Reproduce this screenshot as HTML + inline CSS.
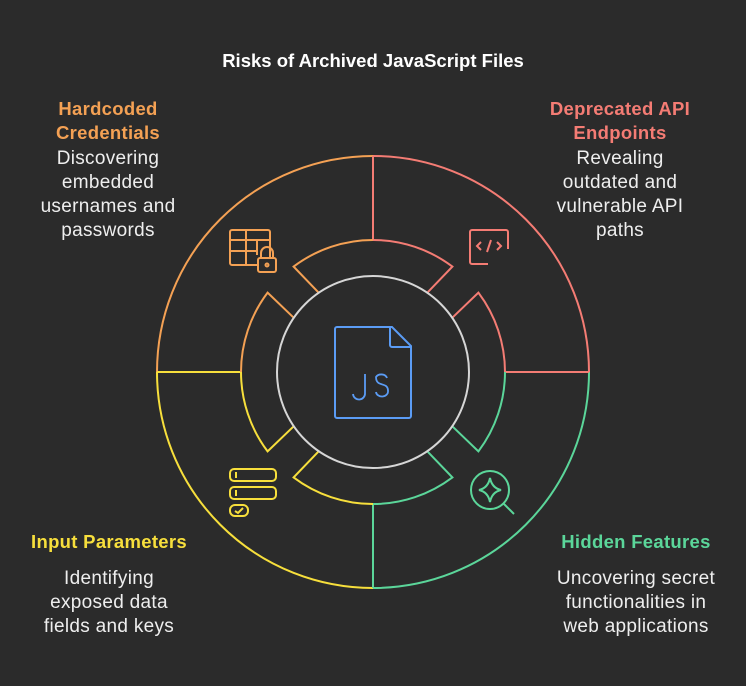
<!DOCTYPE html>
<html><head><meta charset="utf-8"><style>
html,body{margin:0;padding:0;background:#2b2b2b;}
svg{display:block;font-family:"Liberation Sans",sans-serif;}
</style></head><body>
<svg width="746" height="686" viewBox="0 0 746 686" xmlns="http://www.w3.org/2000/svg">
<rect width="746" height="686" fill="#2b2b2b"/>
<text x="373" y="67" text-anchor="middle" font-size="18.5" font-weight="bold" fill="#ffffff">Risks of Archived JavaScript Files</text>

<g text-anchor="middle" letter-spacing="0.3">
<g font-size="18.5" font-weight="bold">
<text x="108" y="115" fill="#f4a154">Hardcoded</text>
<text x="108" y="139" fill="#f4a154">Credentials</text>
<text x="620" y="115" fill="#f47c74">Deprecated API</text>
<text x="620" y="139" fill="#f47c74">Endpoints</text>
<text x="109" y="548" fill="#f7df3c">Input Parameters</text>
<text x="636" y="548" fill="#5bd69a">Hidden Features</text>
</g>
<g font-size="19" fill="#eeeeee">
<text x="108" y="164">Discovering</text>
<text x="108" y="188">embedded</text>
<text x="108" y="212">usernames and</text>
<text x="108" y="236">passwords</text>
<text x="620" y="164">Revealing</text>
<text x="620" y="188">outdated and</text>
<text x="620" y="212">vulnerable API</text>
<text x="620" y="236">paths</text>
<text x="109" y="584">Identifying</text>
<text x="109" y="608">exposed data</text>
<text x="109" y="632">fields and keys</text>
<text x="636" y="584">Uncovering secret</text>
<text x="636" y="608">functionalities in</text>
<text x="636" y="632">web applications</text>
</g>
</g>

<g fill="none" stroke-width="2">
<path d="M157 372 A216 216 0 0 1 373 156" stroke="#f4a154"/>
<path d="M373 156 A216 216 0 0 1 589 372" stroke="#f47c74"/>
<path d="M589 372 A216 216 0 0 1 373 588" stroke="#5bd69a"/>
<path d="M373 588 A216 216 0 0 1 157 372" stroke="#f7df3c"/>
<line x1="373" y1="240" x2="373" y2="156" stroke="#f47c74"/>
<line x1="505" y1="372" x2="589" y2="372" stroke="#f47c74"/>
<line x1="373" y1="504" x2="373" y2="588" stroke="#5bd69a"/>
<line x1="241" y1="372" x2="157" y2="372" stroke="#f7df3c"/>
<g>
<path d="M318.8 292.8 L293.6 266.6 A132 132 0 0 1 373 240" stroke="#f4a154"/>
<path d="M373 240 A132 132 0 0 1 452.4 266.6 L427.2 292.8" stroke="#f47c74"/>
</g>
<g transform="rotate(90 373 372)">
<path d="M318.8 292.8 L293.6 266.6 A132 132 0 0 1 373 240" stroke="#f47c74"/>
<path d="M373 240 A132 132 0 0 1 452.4 266.6 L427.2 292.8" stroke="#5bd69a"/>
</g>
<g transform="rotate(180 373 372)">
<path d="M318.8 292.8 L293.6 266.6 A132 132 0 0 1 373 240" stroke="#5bd69a"/>
<path d="M373 240 A132 132 0 0 1 452.4 266.6 L427.2 292.8" stroke="#f7df3c"/>
</g>
<g transform="rotate(270 373 372)">
<path d="M318.8 292.8 L293.6 266.6 A132 132 0 0 1 373 240" stroke="#f7df3c"/>
<path d="M373 240 A132 132 0 0 1 452.4 266.6 L427.2 292.8" stroke="#f4a154"/>
</g>
<circle cx="373" cy="372" r="96" stroke="#d6d6d6"/>

<path d="M337 327 H392 L411 346 V416 A2 2 0 0 1 409 418 H337 A2 2 0 0 1 335 416 V329 A2 2 0 0 1 337 327 Z" stroke="#5b9cf5"/>
<path d="M390 327 V345 A2 2 0 0 0 392 347 H411" stroke="#5b9cf5"/>
<path d="M365 374 V393 A6 6 0 0 1 353 394" stroke="#5b9cf5" stroke-width="1.8"/>
<path d="M387 378 A6 5 0 0 0 376 377 C376 388 388 381 388 391 A6 5 0 0 1 376 392" stroke="#5b9cf5" stroke-width="1.8"/>

<g stroke="#f4a154">
<rect x="230" y="230" width="40" height="35" rx="2"/>
<line x1="230" y1="240" x2="270" y2="240"/>
<line x1="230" y1="251" x2="256" y2="251"/>
<line x1="246" y1="230" x2="246" y2="265"/>
<line x1="257" y1="240" x2="257" y2="255"/>
<rect x="258" y="258" width="18" height="14" rx="2" fill="#2b2b2b"/>
<path d="M261 258 V253 A6 6 0 0 1 273 253 V258"/>
<circle cx="267" cy="265" r="1.5"/>
</g>

<g stroke="#f47c74">
<path d="M488 264 H472 A2 2 0 0 1 470 262 V232 A2 2 0 0 1 472 230 H506 A2 2 0 0 1 508 232 V249"/>
<path d="M481 242 L477 246 L481 250 M497 242 L501 246 L497 250 M491 240 L487 252"/>
</g>

<g stroke="#5bd69a">
<circle cx="490" cy="490" r="19"/>
<line x1="504" y1="504" x2="514" y2="514"/>
<path d="M490 478 Q492 488 501 490 Q492 492 490 502 Q488 492 479 490 Q488 488 490 478 Z"/>
</g>

<g stroke="#f7df3c">
<rect x="230" y="469" width="46" height="12" rx="4"/>
<rect x="230" y="487" width="46" height="12" rx="4"/>
<rect x="230" y="505" width="18" height="11" rx="5"/>
<line x1="236" y1="472" x2="236" y2="478"/>
<line x1="236" y1="490" x2="236" y2="496"/>
<path d="M235 511 L238 513 L243 508"/>
</g>
</g>
</svg>
</body></html>
